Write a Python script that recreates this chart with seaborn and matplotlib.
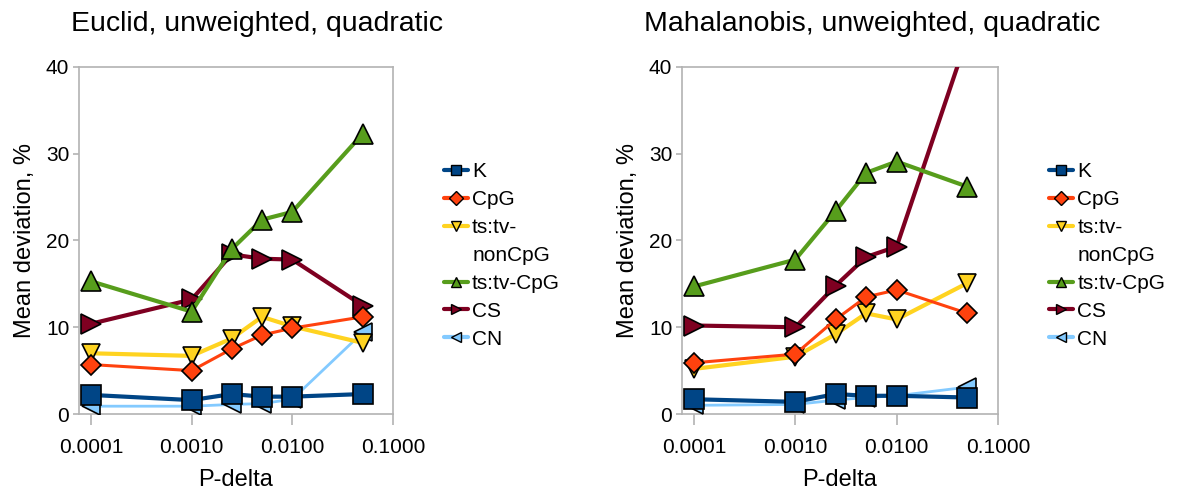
import numpy as np
import pandas as pd
import matplotlib
matplotlib.use("Agg")
import matplotlib.pyplot as plt
from matplotlib.lines import Line2D
from matplotlib.ticker import FixedLocator, FixedFormatter, NullLocator
import seaborn as sns

sns.set_style("white")
plt.rcParams['font.family'] = ['Liberation Sans', 'DejaVu Sans']
plt.rcParams['text.color'] = 'black'
plt.rcParams['axes.labelcolor'] = 'black'
plt.rcParams['xtick.labelcolor'] = 'black'
plt.rcParams['ytick.labelcolor'] = 'black'

p_delta = [0.0001, 0.001, 0.0025, 0.005, 0.01, 0.05]
series_names = ["K", "CpG", "ts:tv-nonCpG", "ts:tv-CpG", "CS", "CN"]

euclid_K = [2.2, 1.6, 2.3, 2.0, 2.0, 2.3]
euclid_CpG = [5.7, 5.0, 7.5, 9.1, 9.9, 11.2]
euclid_nonCpG = [7.0, 6.7, 8.7, 11.2, 10.1, 8.2]
euclid_tstvCpG = [15.3, 11.8, 19.0, 22.4, 23.3, 32.3]
euclid_CS = [10.4, 13.2, 18.4, 17.9, 17.8, 12.5]
euclid_CN = [0.9, 0.9, 1.1, 1.2, 1.7, 9.4]

mahal_K = [1.7, 1.4, 2.3, 2.1, 2.1, 1.9]
mahal_CpG = [5.9, 6.9, 10.9, 13.5, 14.3, 11.6]
mahal_nonCpG = [5.2, 6.6, 9.2, 11.6, 10.9, 15.1]
mahal_tstvCpG = [14.7, 17.8, 23.4, 27.8, 29.1, 26.2]
mahal_CS = [10.2, 10.0, 14.8, 18.1, 19.3, 43.5]
mahal_CN = [1.0, 1.1, 1.6, 1.9, 2.1, 3.1]

titles = ["Euclid, unweighted, quadratic", "Mahalanobis, unweighted, quadratic"]
xtick_vals = [0.0001, 0.001, 0.01, 0.1]
xtick_labels = ["0.0001", "0.0010", "0.0100", "0.1000"]
ytick_vals = [0, 10, 20, 30, 40]

colors = ["#004586", "#ff420e", "#ffd320", "#579d1c", "#7e0021", "#83caff"]
markers = ["s", "D", "v", "^", ">", "<"]
msizes = [14, 10, 13, 14, 14, 13]
lws = [3.0, 2.2, 3.0, 3.0, 3.0, 2.0]
zorders = [8, 7, 6, 5, 4, 3]

panels = [
    [euclid_K, euclid_CpG, euclid_nonCpG, euclid_tstvCpG, euclid_CS, euclid_CN],
    [mahal_K, mahal_CpG, mahal_nonCpG, mahal_tstvCpG, mahal_CS, mahal_CN],
]

W, H = 1178, 494
fig = plt.figure(figsize=(W / 100, H / 100), dpi=100)

axes_px = [(79, 393), (682, 998)]
top_px, bot_px = 67, 414
title_cx = [257, 872]
legend_x = [444, 1049]
spine_c = "#b3b3b3"

for i, (x0, x1) in enumerate(axes_px):
    ax = fig.add_axes([x0 / W, (H - bot_px) / H, (x1 - x0) / W, (bot_px - top_px) / H])
    ax.set_xscale("log")
    for j, name in enumerate(series_names):
        df = pd.DataFrame({"x": p_delta, "y": panels[i][j]})
        sns.lineplot(data=df, x="x", y="y", ax=ax, color=colors[j], marker=markers[j],
                     markersize=msizes[j], markeredgecolor="black", markeredgewidth=1.2,
                     linewidth=lws[j], zorder=zorders[j], legend=False)
    ax.set_xlim(10 ** -4.118, 0.1)
    ax.set_ylim(0, 40)
    ax.xaxis.set_major_locator(FixedLocator(xtick_vals))
    ax.xaxis.set_major_formatter(FixedFormatter(xtick_labels))
    ax.xaxis.set_minor_locator(NullLocator())
    ax.set_yticks(ytick_vals)
    ax.tick_params(axis="x", which="major", labelsize=15, length=8, width=1.2,
                   color=spine_c, direction="out", pad=9, bottom=True)
    ax.tick_params(axis="y", which="major", labelsize=15, length=4, width=1.2,
                   color=spine_c, direction="out", pad=3, left=True)
    for s in ax.spines.values():
        s.set_color(spine_c)
        s.set_linewidth(1.2)
    ax.set_xlabel("P-delta", fontsize=17, labelpad=9)
    ax.set_ylabel("Mean deviation, %", fontsize=17, labelpad=7)
    fig.text(title_cx[i] / W, 1 - 24 / H, titles[i], fontsize=20.5, ha="center", va="center")

    handles = []
    labels = []
    leg_labels = ["K", "CpG", "ts:tv-", "nonCpG", "ts:tv-CpG", "CS", "CN"]
    k = 0
    for lab in leg_labels:
        if lab == "nonCpG":
            handles.append(Line2D([], [], linestyle="none", marker=None))
        else:
            handles.append(Line2D([], [], color=colors[k], marker=markers[k], markersize=7,
                                  markeredgecolor="black", markeredgewidth=1.0, linewidth=3))
            k += 1
        labels.append(lab)
    fig.legend(handles, labels, loc="upper left", bbox_to_anchor=(legend_x[i] / W, 1 - 162 / H),
               frameon=False, fontsize=15, handlelength=1.15, handletextpad=0.2,
               labelspacing=0.43, borderpad=0, borderaxespad=0)

fig.savefig("out.png", dpi=100)
